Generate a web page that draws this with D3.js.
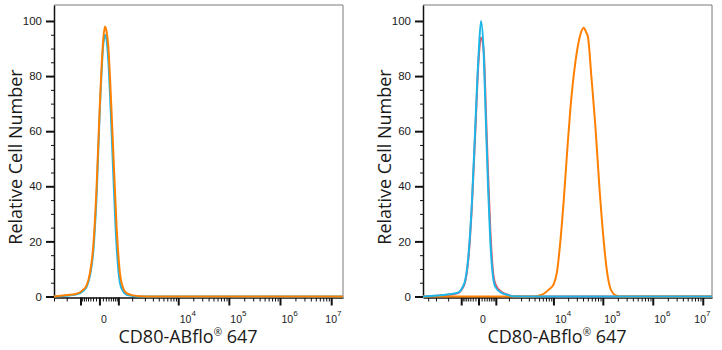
<!DOCTYPE html>
<html><head><meta charset="utf-8">
<script src="https://cdn.jsdelivr.net/npm/d3@7"></script>
<style>body{margin:0;background:#fff}svg{display:block}</style>
</head><body>
<svg id="chart" width="722" height="350"></svg>
<script>
// ---- data (fluorescence intensity bins, relative cell number) ----
const leftBins   = [-2000, -1220, -532, -319, -232, -159, -96, -40, 3, 55, 83, 114, 145, 180, 256, 348, 451, 571, 714, 1064, 1544, 3000, 100000, 17000000];
const leftCyan   = [0, 0.2, 0.8, 2, 3.5, 7.5, 16, 37, 66, 91, 95, 93, 86, 74, 45, 18, 5, 1.8, 0.6, 0.2, 0, 0, 0, 0];
const leftOrange = [0, 0.4, 1, 2.5, 4, 8.5, 18, 40, 68, 93, 98, 96, 91, 80, 53, 25, 8.5, 3, 1.2, 0.4, 0.1, 0, 0, 0];

const rightBins   = [-3900, -966, -488, -373, -275, -187, -114, -52, 1.5, 40, 89, 135, 180, 237, 303, 383, 640, 990, 1206,
                     4160, 4920, 6280, 7990, 10140, 11860, 13870, 16270, 18990, 22170, 27980, 35300, 41330, 46020, 50480,
                     58810, 70780, 85150, 104400, 121500, 141500, 178300, 224500, 1000000, 15300000];
const rightRed    = [0, 0.6, 1.3, 2.7, 5.5, 15, 34, 60, 86, 94, 89, 66, 45, 24, 10, 4.5, 1.5, 0.5, 0.1,
                     0, 0, 0, 0, 0, 0, 0, 0, 0, 0, 0, 0, 0, 0, 0, 0, 0, 0, 0, 0, 0, 0, 0, 0, 0];
const rightCyan   = [0, 0.8, 1.5, 3, 6, 16, 35, 62, 88, 100, 88, 62, 40, 20, 8, 3.5, 1.2, 0.5, 0.1,
                     0, 0, 0, 0, 0, 0, 0, 0, 0, 0, 0, 0, 0, 0, 0, 0, 0, 0, 0, 0, 0, 0, 0, 0, 0];
const rightOrange = [0, 0, 0, 0, 0, 0, 0, 0, 0, 0, 0, 0, 0, 0, 0, 0, 0, 0, 0,
                     0, 0.3, 1, 2.5, 4.5, 9, 20, 35, 52, 68, 85, 95, 97.5, 96, 94, 80, 62, 40, 20, 9, 3, 0.5, 0, 0, 0];

// ---- axis ticks / labels ----
const yMajorTicks = [0, 20, 40, 60, 80, 100];
const yMinorTicks = [5, 10, 15, 25, 30, 35, 45, 50, 55, 65, 70, 75, 85, 90, 95];
const xLabelValues = [0, 1e4, 1e5, 1e6, 1e7];
const xLabelBase   = ["0", "10", "10", "10", "10"];
const xLabelExp    = ["", "4", "5", "6", "7"];
const xMajorTicks  = [-400, 0, 400, 1e4, 1e5, 1e6, 1e7];
const xMinorTicks  = [-3000, -2000, -1000, -350, -300, -250, -200, -150, -100, -50,
                      50, 100, 150, 200, 250, 300, 350,
                      1000, 2000, 3000, 4000, 5000, 6000, 7000, 8000, 9000,
                      2e4, 3e4, 4e4, 5e4, 6e4, 7e4, 8e4, 9e4,
                      2e5, 3e5, 4e5, 5e5, 6e5, 7e5, 8e5, 9e5,
                      2e6, 3e6, 4e6, 5e6, 6e6, 7e6, 8e6, 9e6];
const xTitleMain = "CD80-ABflo";
const xTitleMark = "®";
const xTitleTail = " 647";
const yTitle = "Relative Cell Number";

// ---- drawing ----
const ORANGE = "#FF8000", CYAN = "#1DB6E8", RED = "#E8505C";
const svg = d3.select("#chart");
const TOP = 5, BOTTOM = 296.5;
const y = d3.scaleLinear().domain([0, 105.8]).range([BOTTOM, TOP]);

const panels = [
  { x0: 54, x1: 343, domain: [-2000, 1.7e7], c: 298, bins: leftBins,
    series: [{ v: leftCyan, col: CYAN }, { v: leftOrange, col: ORANGE }] },
  { x0: 423, x1: 712, domain: [-3900, 1.53e7], c: 328, bins: rightBins,
    series: [{ v: rightRed, col: RED }, { v: rightOrange, col: ORANGE }, { v: rightCyan, col: CYAN }] }
];

panels.forEach(p => {
  const x = d3.scaleSymlog().constant(p.c).domain(p.domain).range([p.x0, p.x1]);
  const g = svg.append("g");

  // frame (top/right)
  g.append("path")
    .attr("d", `M${p.x0},${TOP}H${p.x1}V${BOTTOM + 1}`)
    .attr("fill", "none").attr("stroke", "#7a7a7a").attr("stroke-width", 1);

  // y axis
  const yMinor = g.append("g").attr("transform", `translate(${p.x0},0)`)
    .call(d3.axisLeft(y).tickValues(yMinorTicks).tickSize(3).tickFormat(""));
  yMinor.select(".domain").remove();
  yMinor.selectAll("line").attr("stroke", "#111").attr("stroke-width", 1);
  const yMajor = g.append("g").attr("transform", `translate(${p.x0},0)`)
    .call(d3.axisLeft(y).tickValues(yMajorTicks).tickSize(8).tickPadding(4).tickSizeOuter(0));
  yMajor.select(".domain").attr("stroke", "#111").attr("stroke-width", 1.5);
  yMajor.selectAll("line").attr("stroke", "#111").attr("stroke-width", 2);
  yMajor.selectAll("text").attr("font-family", "Liberation Sans, Arial, sans-serif")
    .attr("font-size", 11.5).attr("fill", "#1a1a1a");

  // x axis
  const xs = g.append("g").attr("transform", `translate(0,${BOTTOM + 1})`);
  const xMinor = xs.append("g")
    .call(d3.axisBottom(x).tickValues(xMinorTicks.filter(v => v >= p.domain[0] && v <= p.domain[1]))
      .tickSize(4).tickFormat(""));
  xMinor.select(".domain").remove();
  xMinor.selectAll("line").attr("stroke", "#111").attr("stroke-width", 1);
  const xMajor = xs.append("g")
    .call(d3.axisBottom(x).tickValues(xMajorTicks).tickSize(8).tickFormat("").tickSizeOuter(0));
  xMajor.select(".domain").attr("stroke", "#111").attr("stroke-width", 1.5);
  xMajor.selectAll("line").attr("stroke", "#111").attr("stroke-width", 2);

  // x tick labels (left-aligned at tick, superscript exponents)
  xLabelValues.forEach((v, i) => {
    const last = i === xLabelValues.length - 1;
    const t = g.append("text")
      .attr("x", last ? p.x1 - 1.5 : x(v) + 1.5).attr("y", 323)
      .attr("text-anchor", last ? "end" : "start")
      .attr("font-family", "Liberation Sans, Arial, sans-serif")
      .attr("font-size", 10.5).attr("fill", "#1a1a1a");
    t.append("tspan").text(xLabelBase[i]);
    if (xLabelExp[i]) t.append("tspan").attr("dy", -7).attr("font-size", 8).text(xLabelExp[i]);
  });

  // histogram lines
  const line = d3.line()
    .x((d, i) => x(p.bins[i]))
    .y(d => y(d))
    .curve(d3.curveMonotoneX);
  p.series.forEach(s => {
    g.append("path").datum(s.v)
      .attr("d", line)
      .attr("fill", "none").attr("stroke", s.col).attr("stroke-width", 2)
      .attr("stroke-linejoin", "round");
  });

  // titles
  const xt = g.append("text")
    .attr("x", p.x0 + 134).attr("y", 343).attr("text-anchor", "middle")
    .attr("font-family", "Open Sans, Noto Sans, sans-serif").attr("font-size", 18).attr("fill", "#1a1a1a");
  xt.append("tspan").text(xTitleMain);
  xt.append("tspan").attr("dy", -7).attr("font-size", 10).text(xTitleMark);
  xt.append("tspan").attr("dy", 7).text(xTitleTail);

  g.append("text")
    .attr("transform", `translate(${p.x0 - 32},157) rotate(-90)`)
    .attr("text-anchor", "middle")
    .attr("font-family", "Open Sans, Noto Sans, sans-serif").attr("font-size", 18).attr("fill", "#1a1a1a")
    .text(yTitle);
});
</script>
</body></html>
